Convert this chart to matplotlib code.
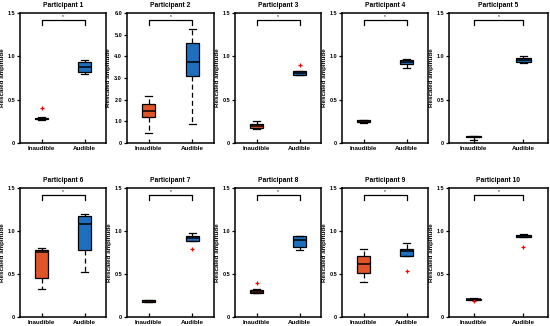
import matplotlib.pyplot as plt

plt.rcParams['font.family'] = ['Liberation Sans', 'DejaVu Sans']

participants = ['Participant %d' % i for i in range(1, 11)]
groups = ['Inaudible', 'Audible']

# box statistics (whisker low, q1, median, q3, whisker high)
inaud_lo = [0.27, 0.47, 0.16, 0.235, 0.03, 0.32, 0.175, 0.276, 0.41, 0.195]
inaud_q1 = [0.275, 1.18, 0.17, 0.24, 0.072, 0.45, 0.18, 0.278, 0.517, 0.198]
inaud_med = [0.28, 1.49, 0.195, 0.253, 0.075, 0.752, 0.188, 0.296, 0.619, 0.207]
inaud_q3 = [0.29, 1.80, 0.219, 0.265, 0.078, 0.779, 0.195, 0.312, 0.713, 0.215]
inaud_hi = [0.30, 2.15, 0.257, 0.27, 0.078, 0.806, 0.20, 0.324, 0.79, 0.22]
inaud_fliers = [[0.405], [], [], [], [], [], [], [0.39], [], [0.188]]

aud_lo = [0.796, 0.88, 0.78, 0.86, 0.922, 0.522, 0.88, 0.78, 0.713, 0.93]
aud_q1 = [0.82, 3.09, 0.783, 0.907, 0.934, 0.783, 0.888, 0.81, 0.713, 0.93]
aud_med = [0.877, 3.74, 0.805, 0.934, 0.961, 1.079, 0.924, 0.896, 0.764, 0.942]
aud_q3 = [0.93, 4.60, 0.832, 0.957, 0.98, 1.176, 0.947, 0.94, 0.795, 0.954]
aud_hi = [0.955, 5.26, 0.832, 0.965, 1.0, 1.196, 0.975, 0.947, 0.862, 0.97]
aud_fliers = [[], [], [0.905], [], [], [], [0.79], [], [0.53], [0.813]]

ymax = [1.5, 6.0, 1.5, 1.5, 1.5, 1.5, 1.5, 1.5, 1.5, 1.5]

colors = ['#E0542A', '#1E70BE']

fig = plt.figure(figsize=(5.5, 3.26), dpi=100)
W, H = 550, 326
lefts = [20, 127, 235, 342, 449]
rights = [106, 214, 321, 428, 548]
rows = [(13, 143), (188, 317)]


def stats(lo, q1, med, q3, hi, fl):
    return dict(whislo=lo, q1=q1, med=med, q3=q3, whishi=hi, fliers=fl)


for i in range(10):
    r, c = divmod(i, 5)
    top, bot = rows[r]
    ax = fig.add_axes([lefts[c] / W, 1 - bot / H,
                       (rights[c] - lefts[c]) / W, (bot - top) / H])
    st = [stats(inaud_lo[i], inaud_q1[i], inaud_med[i], inaud_q3[i], inaud_hi[i], inaud_fliers[i]),
          stats(aud_lo[i], aud_q1[i], aud_med[i], aud_q3[i], aud_hi[i], aud_fliers[i])]
    bp = ax.bxp(st, positions=[1, 2], widths=0.3, patch_artist=True,
                boxprops=dict(linewidth=0.9, edgecolor='black'),
                medianprops=dict(color='black', linewidth=1.1),
                whiskerprops=dict(color='black', linewidth=0.9, linestyle=(0, (4, 2.5))),
                capprops=dict(color='black', linewidth=0.9),
                capwidths=0.15,
                flierprops=dict(marker='+', markeredgecolor='red', markersize=3.5,
                                markeredgewidth=0.9, linestyle='none'))
    for patch, col in zip(bp['boxes'], colors):
        patch.set_facecolor(col)

    ym = ymax[i]
    ax.set_ylim(0, ym)
    ax.set_xlim(0.5, 2.5)
    # significance bracket
    yb = ym * 0.947
    yd = ym * 0.907
    ax.plot([1, 1, 2, 2], [yd, yb, yb, yd], color='black', linewidth=0.9)
    ax.text(1.5, yb + ym * 0.01, '*', ha='center', va='bottom', fontsize=3.5)

    if ym == 6.0:
        ticks = [0, 1, 2, 3, 4, 5, 6]
        labels = ['0', '1.0', '2.0', '3.0', '4.0', '5.0', '6.0']
    else:
        ticks = [0, 0.5, 1.0, 1.5]
        labels = ['0', '0.5', '1.0', '1.5']
    ax.set_yticks(ticks)
    ax.set_yticklabels(labels, fontsize=4, fontweight='bold')
    ax.set_xticks([1, 2])
    ax.set_xticklabels(groups, fontsize=4.5, fontweight='bold')
    ax.tick_params(axis='x', direction='in', length=3, width=0.9, pad=2)
    ax.tick_params(axis='y', direction='out', length=2.5, width=0.9, pad=1)
    for s in ax.spines.values():
        s.set_linewidth(1.1)
    ax.set_title(participants[i], fontsize=4.8, fontweight='bold', pad=4)
    ax.set_ylabel('Rescaled amplitude', fontsize=4.5, fontweight='bold', labelpad=2)

fig.savefig('out.png', dpi=100)
